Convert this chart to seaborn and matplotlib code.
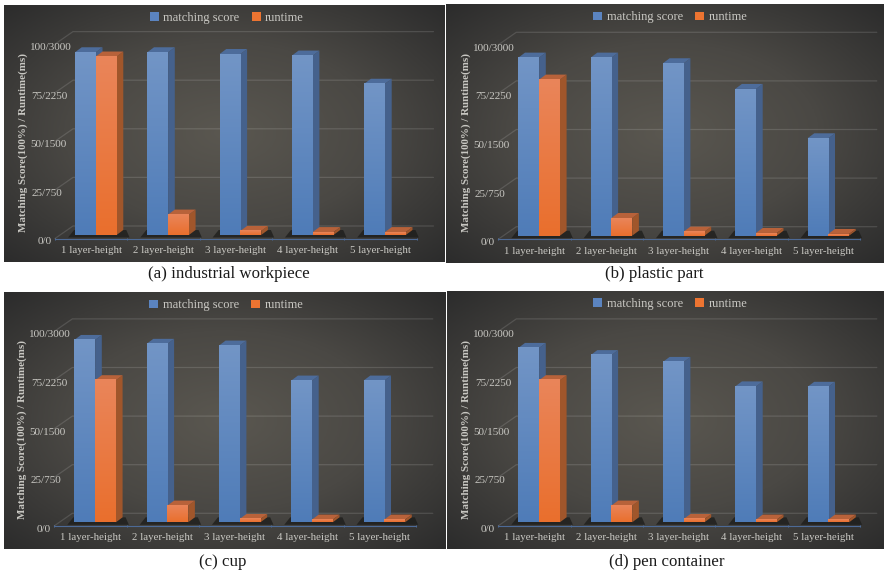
import numpy as np
import pandas as pd
import seaborn as sns
import matplotlib.pyplot as plt
from matplotlib.colors import LinearSegmentedColormap
from matplotlib.patches import Polygon
from matplotlib.transforms import ScaledTranslation

W, H = 884, 575

categories = ['1 layer-height', '2 layer-height', '3 layer-height', '4 layer-height', '5 layer-height']
ytick_vals = [0, 25, 50, 75, 100]
ytick_labels = ['0/0', '25/750', '50/1500', '75/2250', '100/3000']
ytick_pads = [3.3, -7.3, -11.7, -12.7, -16.7]

score_a = [94, 94, 93.1, 92.3, 77.8]
runtime_a = [91.8, 10.5, 2.1, 1.5, 1.5]
score_b = [91.6, 91.6, 88.7, 75.5, 50.1]
runtime_b = [80.3, 9.1, 2.1, 1.4, 0.9]
score_c = [93.8, 91.8, 90.9, 72.9, 72.9]
runtime_c = [73.1, 8.6, 1.7, 1.4, 1.4]
score_d = [89.7, 86, 82.5, 69.9, 69.7]
runtime_d = [73.1, 8.6, 1.7, 1.4, 1.4]

captions = ['(a) industrial workpiece', '(b) plastic part', '(c) cup', '(d) pen container']
caption_xy = [(229, 274), (654, 274), (223, 562), (667, 562)]
panels = [(4.3, 5, 445, 262.3), (446, 4.3, 884, 262.7), (4.3, 292.3, 446, 549.3), (446.7, 291, 884, 549.3)]
axis_left = [55, 498.3, 54.3, 498.3]
base_y = [235, 235.7, 522.3, 522.3]

PX = 1 / 72.3      # categories per pixel
PY = 100 / 194.4   # percent per pixel
SHIFT = 4.65 * PX  # bars sit right of the tick label centre
DX, DY = 6.7 * PX, 5 * PY

sns.set_theme(style='white')
plt.rcParams['font.family'] = ['Liberation Serif', 'DejaVu Serif']

TXT = '#c9c8c3'
blue_cm = LinearSegmentedColormap.from_list('b', ['#7295c6', '#4f7cb8'])
orange_cm = LinearSegmentedColormap.from_list('o', ['#e9855a', '#ea6f2d'])
bg_cm = LinearSegmentedColormap.from_list('bg', ['#5a5750', '#4a4844', '#2c2c2c'])

fig = plt.figure(figsize=(W / 100, H / 100), dpi=100, facecolor='white')


def rect(l, t, r, b):
    return [l / W, 1 - b / H, (r - l) / W, (b - t) / H]


def draw_panel(n, score, runtime):
    l, t, r, b = panels[n]
    x0, base = axis_left[n], base_y[n]

    bg = fig.add_axes(rect(l, t, r, b), zorder=0)
    yy, xx = np.mgrid[-1:1:200j, -1:1:300j]
    bg.imshow(np.clip(np.hypot(xx, yy) / 1.41, 0, 1), cmap=bg_cm, aspect='auto', vmin=0, vmax=1)
    bg.axis('off')

    ax = fig.add_axes(rect(x0, base - 203, x0 + 378.5, base + 3.5), zorder=1)
    ax.patch.set_alpha(0)
    df = pd.DataFrame({
        'layer': categories * 2,
        'series': ['matching score'] * 5 + ['runtime'] * 5,
        'value': score + runtime,
    })
    sns.barplot(data=df, x='layer', y='value', hue='series', palette=['#5b84c0', '#ed7431'],
                width=0.575, gap=0, saturation=1, linewidth=0, edgecolor='none', ax=ax, zorder=4)

    xmin = -(40.8 * PX)
    ymin = -3.5 * PY
    xmax = xmin + 378.5 * PX
    ymax = 203 * PY

    # back wall lines
    for v in ytick_vals:
        ax.plot([xmin, xmin + 18 * PX, xmax], [v - 3.5 * PY, v + 9 * PY, v + 9 * PY],
                color='white', alpha=0.13, lw=0.9, zorder=1, clip_on=False)

    # floor shadow per group
    for blue, orange in zip(ax.containers[0], ax.containers[1]):
        x1 = blue.get_x()
        x2 = orange.get_x() + orange.get_width()
        shadow = [(x1 - 7 * PX, -2.5 * PY), (x2 + 13 * PX, -2.5 * PY), (x2 + DX + 3 * PX, DY), (x1 - 1 * PX, DY)]
        ax.add_patch(Polygon(shadow, color='#1c1c1a', alpha=0.75, lw=0, zorder=2, clip_on=False))

    # fake 3d faces built from the bars seaborn drew
    for cont, cm, side, top in zip(ax.containers, [blue_cm, orange_cm], ['#45618c', '#a0562b'], ['#4d6c9b', '#b8623a']):
        for bar in cont:
            x, w, h = bar.get_x(), bar.get_width(), bar.get_height()
            ax.add_patch(Polygon([(x + w, 0), (x + w + DX, DY), (x + w + DX, h + DY), (x + w, h)],
                                 color=side, lw=0, zorder=3, clip_on=False))
            ax.add_patch(Polygon([(x, h), (x + w, h), (x + w + DX, h + DY), (x + DX, h + DY)],
                                 color=top, lw=0, zorder=3, clip_on=False))
            ax.imshow(np.linspace(0, 1, 64).reshape(-1, 1), cmap=cm, extent=(x, x + w, 0, h),
                      aspect='auto', zorder=5)

    ax.set_xlim(xmin, xmax)
    ax.set_ylim(ymin, ymax)
    ax.set_xlabel('')

    ax.set_xticks([i - SHIFT for i in range(5)], categories)
    ax.set_xticks([xmin + k * 72.3 * PX for k in range(6)], minor=True)
    ax.tick_params(axis='x', which='major', length=0, pad=5.5, labelsize=7.8, labelcolor=TXT)
    ax.tick_params(axis='x', which='minor', length=2, width=0.7, color='#4d6a96', direction='inout', bottom=True)

    ax.set_yticks(ytick_vals, ytick_labels)
    ax.tick_params(axis='y', length=0, labelsize=8, labelcolor=TXT)
    down = ScaledTranslation(0, -2.5 / 100, fig.dpi_scale_trans)
    for tick, pad in zip(ax.yaxis.get_major_ticks(), ytick_pads):
        tick.set_pad(pad * 0.72)
        tick.label1.set_verticalalignment('top')
        tick.label1.set_transform(tick.label1.get_transform() + down)

    ax.set_ylabel('Matching Score(100%) / Runtime(ms)', fontsize=7.9, fontweight='bold', color=TXT)
    ax.yaxis.set_label_coords((x0 - 27) / W, 1 - (base - 93) / H, transform=fig.transFigure)

    for s in ['top', 'right', 'left']:
        ax.spines[s].set_visible(False)
    ax.spines['bottom'].set_color('#4d6a96')
    ax.spines['bottom'].set_linewidth(0.8)
    ax.spines['bottom'].set_bounds(xmin, xmin + 5)

    sns.move_legend(ax, 'center', bbox_to_anchor=((x0 + 172) / W, 1 - (t + 13) / H),
                    bbox_transform=fig.transFigure, ncols=2, frameon=False, title=None,
                    fontsize=9, labelcolor=TXT, handlelength=0.7, handleheight=0.7,
                    handletextpad=0.35, columnspacing=1.0, borderaxespad=0)

    fig.text(caption_xy[n][0] / W, 1 - caption_xy[n][1] / H, captions[n], ha='center', va='center',
             fontsize=12.2, color='#1a1a1a')


draw_panel(0, score_a, runtime_a)
draw_panel(1, score_b, runtime_b)
draw_panel(2, score_c, runtime_c)
draw_panel(3, score_d, runtime_d)

fig.savefig('out.png', dpi=100)
